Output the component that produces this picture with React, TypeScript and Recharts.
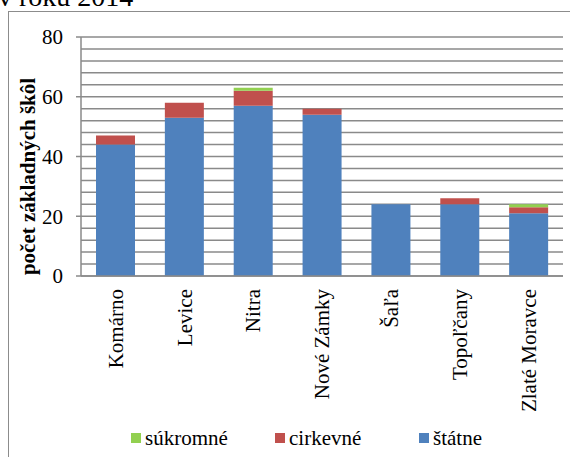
import { BarChart, Bar, XAxis, YAxis, CartesianGrid, Legend } from 'recharts';

const okresy = ['Komárno', 'Levice', 'Nitra', 'Nové Zámky', 'Šaľa', 'Topoľčany', 'Zlaté Moravce'];
const statne = [44, 53, 57, 54, 24, 24, 21];
const cirkevne = [3, 5, 5, 2, 0, 2, 2];
const sukromne = [0, 0, 1, 0, 0, 0, 1];
const yTicks = [0, 4, 8, 12, 16, 20, 24, 28, 32, 36, 40, 44, 48, 52, 56, 60, 64, 68, 72, 76, 80];
const yLabels = [0, 20, 40, 60, 80];

const serif = "'Liberation Serif', 'DejaVu Serif', serif";
const gridColor = '#8a8a8a';

const series = [
  { key: 'statne', name: 'štátne', color: '#4F81BD' },
  { key: 'cirkevne', name: 'cirkevné', color: '#C0504D' },
  { key: 'sukromne', name: 'súkromné', color: '#92D050' },
];

const data = okresy.map((okres, i) => ({
  okres,
  statne: statne[i],
  cirkevne: cirkevne[i],
  sukromne: sukromne[i],
}));

function YTick(props: any) {
  const { x, y, payload } = props;
  if (!yLabels.includes(payload.value)) return null;
  return (
    <g>
      <line x1={x - 5} x2={x} y1={y} y2={y} stroke={gridColor} strokeWidth={1.5} />
      <text x={x - 18} y={y} dy="0.35em" textAnchor="end" style={{ fontFamily: serif, fontSize: 21 }} fill="#000">
        {payload.value}
      </text>
    </g>
  );
}

function XTick(props: any) {
  const { x, y, payload } = props;
  const ty = y + 13;
  return (
    <text
      x={x}
      y={ty}
      dy="0.35em"
      textAnchor="end"
      transform={`rotate(-90, ${x}, ${ty})`}
      style={{ fontFamily: serif, fontSize: 21 }}
      fill="#000"
    >
      {payload.value}
    </text>
  );
}

function YTitle(props: any) {
  const vb = props.viewBox;
  const cy = vb.y + vb.height / 2 + 20;
  return (
    <text
      x={35}
      y={cy}
      textAnchor="middle"
      transform={`rotate(-90, 35, ${cy})`}
      style={{ fontFamily: serif, fontSize: 21, fontWeight: 'bold' }}
      fill="#000"
    >
      počet základných škôl
    </text>
  );
}

function LegendBox() {
  const items = [...series].reverse();
  return (
    <div style={{ display: 'flex', alignItems: 'center', height: 30, paddingLeft: 131, fontFamily: serif, fontSize: 21 }}>
      {items.map((s) => (
        <div key={s.key} style={{ width: 146, display: 'flex', alignItems: 'center' }}>
          <span style={{ display: 'inline-block', width: 10, height: 10, background: s.color, marginRight: 4 }} />
          <span>{s.name}</span>
        </div>
      ))}
    </div>
  );
}

export default function App() {
  return (
    <div
      style={{
        position: 'absolute',
        left: 0,
        top: 0,
        width: 570,
        height: 457,
        overflow: 'hidden',
        background: '#fff',
        fontFamily: serif,
      }}
    >
      <div
        style={{
          position: 'absolute',
          left: 8,
          top: 11,
          width: 620,
          height: 500,
          border: '1px solid #8c8c8c',
          boxSizing: 'border-box',
        }}
      />
      <svg width={570} height={20} style={{ position: 'absolute', left: 0, top: 0 }}>
        <text x={-2} y={6} style={{ fontFamily: serif, fontSize: 28 }} fill="#000">
          v roku 2014
        </text>
      </svg>
      <div style={{ position: 'absolute', left: 0, top: 0 }}>
        <BarChart width={570} height={457} data={data} margin={{ top: 37, right: 7, left: 0, bottom: 4 }}>
          <CartesianGrid horizontal vertical={false} stroke={gridColor} strokeWidth={1.5} />
          <XAxis
            dataKey="okres"
            height={147}
            interval={0}
            tickLine={false}
            tickSize={0}
            tickMargin={0}
            axisLine={{ stroke: gridColor, strokeWidth: 1.5 }}
            tick={<XTick />}
          />
          <YAxis
            width={81}
            domain={[0, 80]}
            ticks={yTicks}
            interval={0}
            tickLine={false}
            tickSize={0}
            tickMargin={0}
            axisLine={{ stroke: gridColor, strokeWidth: 1.5 }}
            tick={<YTick />}
            label={<YTitle />}
          />
          <YAxis
            yAxisId="r"
            orientation="right"
            width={0}
            domain={[0, 80]}
            tick={false}
            tickLine={false}
            axisLine={{ stroke: gridColor, strokeWidth: 1.5 }}
          />
          {series.map((s) => (
            <Bar key={s.key} dataKey={s.key} name={s.name} stackId="a" fill={s.color} barSize={39} isAnimationActive={false} />
          ))}
          <Legend verticalAlign="bottom" height={30} content={<LegendBox />} />
        </BarChart>
      </div>
    </div>
  );
}
